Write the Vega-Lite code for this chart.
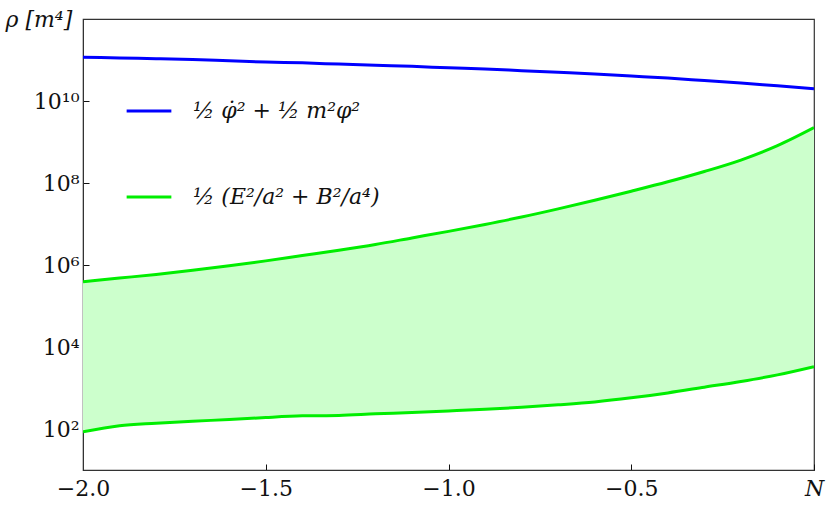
{
  "$schema": "https://vega.github.io/schema/vega-lite/v6.json",
  "width": 731,
  "height": 451,
  "autosize": {"type": "none"},
  "padding": {"left": 83, "top": 19, "right": 16, "bottom": 48},
  "background": "white",
  "config": {
    "view": {"stroke": "#333333", "strokeWidth": 1.2},
    "font": "DejaVu Serif"
  },
  "data": {
    "values": [
      {"N": -2.0, "phi": 1.175e11, "hi": 3.89e5, "lo": 85},
      {"N": -1.9, "phi": 1.122e11, "hi": 4.79e5, "lo": 120},
      {"N": -1.8, "phi": 1.072e11, "hi": 5.89e5, "lo": 138},
      {"N": -1.7, "phi": 1.023e11, "hi": 7.41e5, "lo": 155},
      {"N": -1.6, "phi": 9.55e10, "hi": 9.55e5, "lo": 170},
      {"N": -1.5, "phi": 8.91e10, "hi": 1.26e6, "lo": 191},
      {"N": -1.4, "phi": 8.51e10, "hi": 1.70e6, "lo": 209},
      {"N": -1.3, "phi": 7.94e10, "hi": 2.29e6, "lo": 214},
      {"N": -1.2, "phi": 7.41e10, "hi": 3.16e6, "lo": 234},
      {"N": -1.1, "phi": 7.00e10, "hi": 4.57e6, "lo": 251},
      {"N": -1.0, "phi": 6.46e10, "hi": 6.61e6, "lo": 275},
      {"N": -0.9, "phi": 6.03e10, "hi": 9.77e6, "lo": 302},
      {"N": -0.8, "phi": 5.50e10, "hi": 1.48e7, "lo": 339},
      {"N": -0.7, "phi": 5.01e10, "hi": 2.34e7, "lo": 389},
      {"N": -0.6, "phi": 4.57e10, "hi": 3.80e7, "lo": 457},
      {"N": -0.5, "phi": 4.07e10, "hi": 6.31e7, "lo": 575},
      {"N": -0.4, "phi": 3.63e10, "hi": 1.07e8, "lo": 759},
      {"N": -0.3, "phi": 3.16e10, "hi": 1.91e8, "lo": 1047},
      {"N": -0.2, "phi": 2.75e10, "hi": 3.63e8, "lo": 1445},
      {"N": -0.1, "phi": 2.34e10, "hi": 8.13e8, "lo": 2089},
      {"N": 0.0, "phi": 2.00e10, "hi": 2.24e9, "lo": 3311}
    ]
  },
  "encoding": {
    "x": {
      "field": "N",
      "type": "quantitative",
      "scale": {"domain": [-2, 0], "nice": false, "zero": false},
      "axis": {
        "values": [-2, -1.5, -1, -0.5, 0],
        "labelExpr": "datum.value == 0 ? 'N' : format(datum.value, '.1f')",
        "labelFontStyle": {"condition": {"test": "datum.value == 0", "value": "italic"}, "value": "normal"},
        "labelFontSize": 22,
        "labelFont": "DejaVu Serif",
        "labelColor": "#111111",
        "labelPadding": 14,
        "tickSize": -6,
        "tickColor": "#111111",
        "domainColor": "#333333",
        "grid": false,
        "title": null,
        "labelFlush": false
      }
    }
  },
  "layer": [
    {
      "mark": {"type": "area", "color": "#ccffcc", "opacity": 1, "interpolate": "monotone"},
      "encoding": {
        "y": {"field": "hi", "type": "quantitative"},
        "y2": {"field": "lo"}
      }
    },
    {
      "transform": [{"fold": ["phi", "hi", "lo"], "as": ["key", "value"]}],
      "mark": {"type": "line", "strokeWidth": 3, "clip": true, "interpolate": "monotone"},
      "encoding": {
        "y": {
          "field": "value",
          "type": "quantitative",
          "scale": {"type": "log", "domain": [10, 1e12], "nice": false},
          "axis": {
            "values": [1e2, 1e4, 1e6, 1e8, 1e10],
            "labelExpr": "datum.value == 1e2 ? '10²' : datum.value == 1e4 ? '10⁴' : datum.value == 1e6 ? '10⁶' : datum.value == 1e8 ? '10⁸' : '10¹⁰'",
            "labelFontSize": 22,
            "labelFont": "DejaVu Serif",
            "labelColor": "#111111",
            "labelPadding": 10,
            "tickSize": -6,
            "tickColor": "#111111",
            "domainColor": "#333333",
            "grid": false,
            "title": "ρ [m⁴]",
            "titleAngle": 0,
            "titleAlign": "left",
            "titleBaseline": "middle",
            "titleX": -78,
            "titleY": 0,
            "titleFont": "DejaVu Serif",
            "titleFontStyle": "italic",
            "titleFontWeight": "normal",
            "titleFontSize": 22,
            "titleColor": "#111111"
          }
        },
        "color": {
          "field": "key",
          "type": "nominal",
          "scale": {"domain": ["phi", "hi", "lo"], "range": ["#0000ff", "#00ee00", "#00ee00"]},
          "legend": {
            "values": ["phi", "hi"],
            "labelExpr": "datum.value == 'phi' ? '½ φ̇² + ½ m²φ²' : '½ (E²/a² + B²/a⁴)'",
            "orient": "none",
            "legendX": 42,
            "legendY": 68,
            "title": null,
            "symbolType": "stroke",
            "symbolSize": 2000,
            "symbolStrokeWidth": 3,
            "labelFontSize": 22,
            "labelFont": "DejaVu Serif",
            "labelFontStyle": "italic",
            "labelColor": "#111111",
            "labelOffset": 20,
            "rowPadding": 51,
            "labelLimit": 400
          }
        }
      }
    }
  ]
}
